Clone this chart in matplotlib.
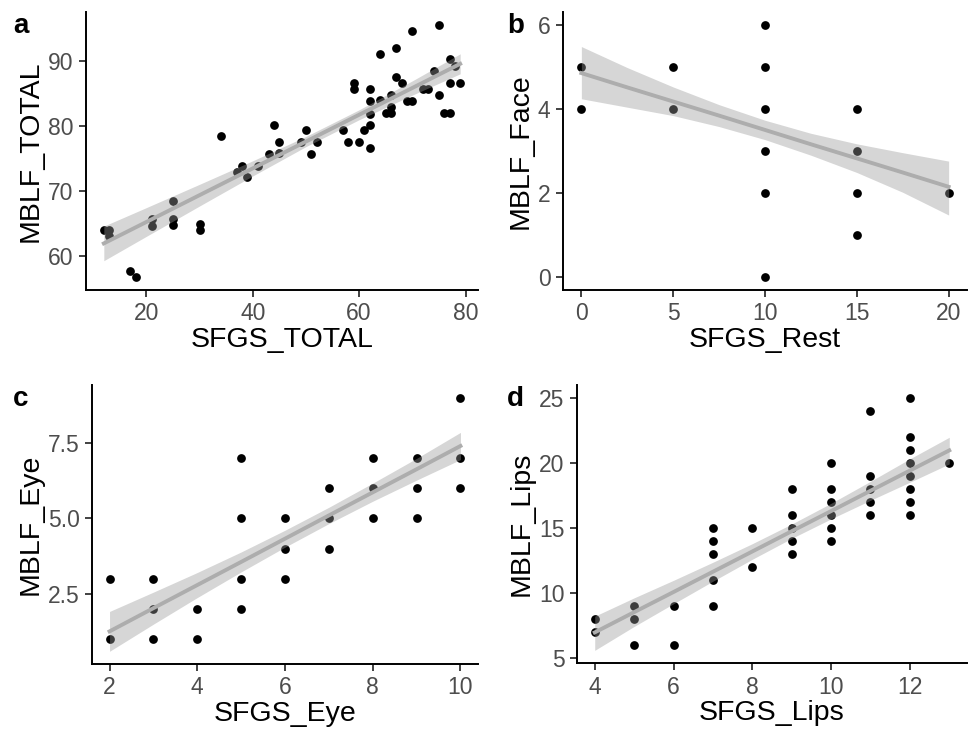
import matplotlib
matplotlib.use("Agg")
import matplotlib.pyplot as plt

plt.rcParams["font.family"] = ["Liberation Sans", "DejaVu Sans"]

# panel a: SFGS_TOTAL vs MBLF_TOTAL
total_x = [12, 13, 13, 17, 18, 21, 21, 25, 25, 25, 30, 30, 34, 37, 38, 39, 41,
           43, 44, 45, 45, 49, 50, 51, 52, 57, 58, 59, 59, 60, 61, 62, 62, 62,
           62, 62, 64, 64, 65, 66, 66, 66, 67, 67, 68, 69, 70, 70, 72, 73, 74,
           75, 75, 76, 77, 77, 77, 78, 79]
total_y = [64.0, 64.0, 63.1, 57.7, 56.8, 65.8, 64.7, 68.5, 65.8, 64.8, 64.9,
           64.0, 78.4, 73.0, 73.9, 72.1, 73.9, 75.7, 80.2, 77.5, 75.8, 77.6,
           79.3, 75.7, 77.5, 79.3, 77.5, 86.6, 85.6, 77.5, 79.3, 85.6, 83.8,
           81.8, 80.2, 76.6, 91.0, 83.9, 82.0, 84.8, 82.9, 82.0, 91.9, 87.5,
           86.5, 83.8, 94.6, 83.8, 85.7, 85.7, 88.4, 95.5, 84.7, 82.0, 90.2,
           86.5, 82.0, 89.2, 86.5]
# linear fit with 95% band
total_fit_x = [12, 20, 30, 40, 50, 60, 70, 79]
total_fit = [62.0, 65.28, 69.39, 73.49, 77.60, 81.70, 85.80, 89.50]
total_lo = [59.35, 63.08, 67.73, 72.33, 76.82, 80.94, 84.71, 87.97]
total_hi = [64.65, 67.48, 71.05, 74.65, 78.38, 82.46, 86.89, 91.03]

# panel b: SFGS_Rest vs MBLF_Face
rest_x = [0, 0, 5, 5, 10, 10, 10, 10, 10, 10, 15, 15, 15, 15, 20]
face_y = [5, 4, 5, 4, 6, 5, 4, 3, 2, 0, 4, 3, 2, 1, 2]
face_fit_x = [0, 2.5, 5, 7.5, 10, 12.5, 15, 17.5, 20]
face_fit = [4.85, 4.51, 4.175, 3.84, 3.50, 3.16, 2.825, 2.49, 2.15]
face_lo = [4.24, 4.04, 3.84, 3.58, 3.27, 2.90, 2.49, 2.02, 1.48]
face_hi = [5.48, 4.98, 4.52, 4.10, 3.73, 3.42, 3.17, 2.96, 2.76]

# panel c: SFGS_Eye vs MBLF_Eye
eye_x = [2, 2, 3, 3, 3, 4, 4, 5, 5, 5, 5, 6, 6, 6, 7, 7, 7, 8, 8, 8, 9, 9, 9,
         10, 10, 10]
eye_y = [3, 1, 3, 2, 1, 2, 1, 7, 5, 3, 2, 5, 4, 3, 6, 5, 4, 7, 6, 5, 7, 6, 5,
         9, 7, 6]
eye_fit_x = [2, 3, 4, 5, 6, 7, 8, 9, 10]
eye_fit = [1.26, 2.03, 2.795, 3.56, 4.33, 5.10, 5.865, 6.63, 7.40]
eye_lo = [0.60, 1.50, 2.38, 3.23, 4.05, 4.83, 5.57, 6.27, 6.95]
eye_hi = [1.92, 2.56, 3.21, 3.89, 4.61, 5.37, 6.17, 6.99, 7.85]

# panel d: SFGS_Lips vs MBLF_Lips
lips_x = [4, 4, 5, 5, 5, 6, 6, 7, 7, 7, 7, 7, 8, 8, 9, 9, 9, 9, 9,
          10, 10, 10, 10, 10, 10, 11, 11, 11, 11, 11,
          12, 12, 12, 12, 12, 12, 12, 12, 13]
lips_y = [8, 7, 9, 8, 6, 9, 6, 15, 14, 13, 11, 9, 15, 12, 18, 16, 15, 14, 13,
          20, 18, 17, 16, 15, 14, 24, 19, 18, 17, 16,
          25, 22, 21, 20, 19, 18, 17, 16, 20]
lips_fit_x = [4, 5, 6, 7, 8, 9, 10, 11, 12, 13]
lips_fit = [6.93, 8.49, 10.04, 11.60, 13.16, 14.72, 16.27, 17.83, 19.39, 20.94]
lips_lo = [5.55, 7.39, 9.14, 10.87, 12.56, 14.17, 15.67, 17.10, 18.49, 19.90]
lips_hi = [8.18, 9.59, 10.94, 12.33, 13.76, 15.27, 16.87, 18.56, 20.29, 21.95]


W, H = 972, 730
fig = plt.figure(figsize=(W / 100, H / 100), dpi=100)


def add_panel(box, x, y, fit_x, fit, lo, hi, xlabel, ylabel, xticks, yticks,
              yticklabels=None):
    left, right, top, bottom = box
    ax = fig.add_axes([left / W, 1 - bottom / H, (right - left) / W, (bottom - top) / H])
    ax.plot(x, y, "o", color="black", markersize=6.3, markeredgewidth=0, zorder=2)
    # smoother drawn over the points, as geom_smooth does
    ax.fill_between(fit_x, lo, hi, color="#999999", alpha=0.4, linewidth=0, zorder=3)
    ax.plot(fit_x, fit, color="#adadad", linewidth=2.8, zorder=4)

    # ggplot style limits: data + ribbon, expanded by 5%
    x0, x1 = min(x), max(x)
    y0 = min(min(y), min(lo))
    y1 = max(max(y), max(hi))
    ax.set_xlim(x0 - 0.05 * (x1 - x0), x1 + 0.05 * (x1 - x0))
    ax.set_ylim(y0 - 0.05 * (y1 - y0), y1 + 0.05 * (y1 - y0))

    ax.set_xticks(xticks)
    ax.set_yticks(yticks)
    if yticklabels is not None:
        ax.set_yticklabels(yticklabels)
    ax.tick_params(labelsize=16.5, labelcolor="#4d4d4d", length=5, width=1.3,
                   color="#333333", pad=4)
    ax.set_xlabel(xlabel, fontsize=20.5, labelpad=1)
    ax.set_ylabel(ylabel, fontsize=20.5, labelpad=3)
    for side in ("top", "right"):
        ax.spines[side].set_visible(False)
    for side in ("left", "bottom"):
        ax.spines[side].set_linewidth(1.4)
    return ax


add_panel((86, 478, 12, 290), total_x, total_y, total_fit_x, total_fit,
          total_lo, total_hi, "SFGS_TOTAL", "MBLF_TOTAL",
          [20, 40, 60, 80], [60, 70, 80, 90])
add_panel((563, 967, 12, 290), rest_x, face_y, face_fit_x, face_fit,
          face_lo, face_hi, "SFGS_Rest", "MBLF_Face",
          [0, 5, 10, 15, 20], [0, 2, 4, 6])
add_panel((92, 478, 385, 664), eye_x, eye_y, eye_fit_x, eye_fit,
          eye_lo, eye_hi, "SFGS_Eye", "MBLF_Eye",
          [2, 4, 6, 8, 10], [2.5, 5.0, 7.5], ["2.5", "5.0", "7.5"])
add_panel((577, 967, 385, 663), lips_x, lips_y, lips_fit_x, lips_fit,
          lips_lo, lips_hi, "SFGS_Lips", "MBLF_Lips",
          [4, 6, 8, 10, 12], [5, 10, 15, 20, 25])

for letter, px, py in [("a", 13, 33), ("b", 507, 33), ("c", 13, 406), ("d", 507, 406)]:
    fig.text(px / W, 1 - py / H, letter, fontsize=20, fontweight="bold",
             ha="left", va="baseline")

fig.savefig("out.png", dpi=100)
